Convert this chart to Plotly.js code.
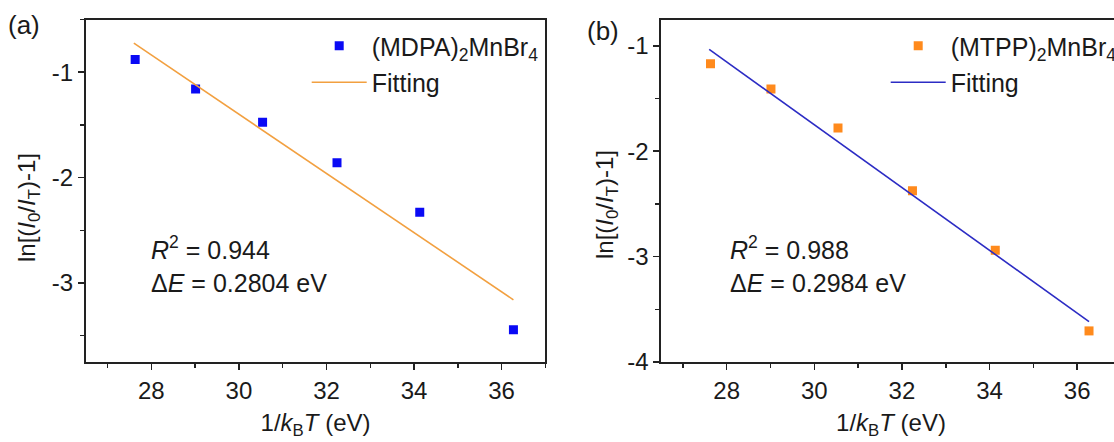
<!DOCTYPE html>
<html><head><meta charset="utf-8">
<script src="https://cdn.plot.ly/plotly-3.0.1.min.js"></script>
<style>html,body{margin:0;padding:0;overflow:hidden;background:#fff}#chart{width:1130px;height:442px}</style>
</head><body><div id="chart"></div>
<script>
// ---- data ----
const invKT = [27.63, 29.01, 30.54, 32.24, 34.13, 36.27];
const lnMDPA = [-0.88, -1.16, -1.475, -1.86, -2.33, -3.445];
const lnMTPP = [-1.17, -1.41, -1.78, -2.375, -2.94, -3.705];
const fitX = [27.6, 36.27];
const fitMDPA = [-0.725, -3.16];
const fitMTPP = [-1.034, -3.617];
const xTickVals = [28, 30, 32, 34, 36];
const yTickValsA = [-1, -2, -3];
const yTickTextA = ['-1', '-2', '-3'];
const yTickValsB = [-1, -2, -3, -4];
const yTickTextB = ['-1', '-2', '-3', '-4'];
const nameA = '(MDPA)<sub>2</sub>MnBr<sub>4</sub>';
const nameB = '(MTPP)<sub>2</sub>MnBr<sub>4</sub>';
const fitName = 'Fitting';
const statsA = ['<i>R</i><sup>2</sup> = 0.944', 'Δ<i>E</i> = 0.2804 eV'];
const statsB = ['<i>R</i><sup>2</sup> = 0.988', 'Δ<i>E</i> = 0.2984 eV'];

// ---- layout helpers ----
const W = 1130, H = 442;
const FONT = 'Liberation Sans, Arial, sans-serif';
const FS = 24;
const FS_TXT = 25;
const TXT = '#1a1a1a';
const AX = '#222';
const px = v => v / W;
const py = v => 1 - v / H;

const blue = '#0a0af5';
const orangeLine = '#f2a040';
const orangeMk = '#ff8a1c';
const blueLine = '#2c2cc4';

const traces = [
  {x: invKT, y: lnMDPA, type: 'scatter', mode: 'markers', name: nameA,
   marker: {symbol: 'square', size: 9, color: blue}, xaxis: 'x', yaxis: 'y', legend: 'legend', legendgroup: 'a1'},
  {x: fitX, y: fitMDPA, type: 'scatter', mode: 'lines', name: fitName,
   line: {color: orangeLine, width: 1.6}, xaxis: 'x', yaxis: 'y', legend: 'legend', legendgroup: 'a2'},
  {x: invKT, y: lnMTPP, type: 'scatter', mode: 'markers', name: nameB,
   marker: {symbol: 'square', size: 9, color: orangeMk}, xaxis: 'x2', yaxis: 'y2', legend: 'legend2', legendgroup: 'b1'},
  {x: fitX, y: fitMTPP, type: 'scatter', mode: 'lines', name: fitName,
   line: {color: blueLine, width: 1.6}, xaxis: 'x2', yaxis: 'y2', legend: 'legend2', legendgroup: 'b2'}
];

function xAxis(dom, anchor) {
  return {
    domain: dom, anchor: anchor, range: [26.5, 37], tickvals: xTickVals,
    ticks: 'outside', ticklen: 6, tickwidth: 1.5, tickcolor: AX,
    showline: true, linecolor: AX, linewidth: 1.7, mirror: true,
    showgrid: false, zeroline: false, automargin: false,
    minor: {ticks: 'outside', ticklen: 4, tickwidth: 1.5, tickcolor: AX, dtick: 1, tick0: 0, showgrid: false},
    tickfont: {family: FONT, size: FS, color: TXT},
    title: {text: '1/<i>k</i><sub>B</sub><i>T</i> (eV)', font: {family: FONT, size: FS, color: TXT}, standoff: 12}
  };
}
function yAxis(range, vals, text, anchor) {
  return {
    domain: [py(362), py(19.5)], anchor: anchor, range: range, tickvals: vals, ticktext: text,
    ticks: 'outside', ticklen: 6, tickwidth: 1.5, tickcolor: AX,
    showline: true, linecolor: AX, linewidth: 1.7, mirror: true,
    showgrid: false, zeroline: false, automargin: false,
    minor: {ticks: 'outside', ticklen: 4, tickwidth: 1.5, tickcolor: AX, dtick: 0.5, tick0: 0, showgrid: false},
    tickfont: {family: FONT, size: FS, color: TXT}
  };
}

const ann = (text, x, y, opts) => Object.assign({
  text: text, x: px(x), y: py(y), xref: 'paper', yref: 'paper', showarrow: false,
  xanchor: 'left', yanchor: 'middle', font: {family: FONT, size: FS_TXT, color: TXT}
}, opts || {});

const yTitle = 'ln[(<i>I</i><sub>0</sub>/<i>I</i><sub>T</sub>)-1]';

const legendBase = {xanchor: 'left', yanchor: 'top', bgcolor: 'rgba(0,0,0,0)',
  borderwidth: 0, itemwidth: 55, traceorder: 'grouped', tracegroupgap: 1,
  font: {family: FONT, size: FS_TXT, color: TXT}};

const layout = {
  width: W, height: H, margin: {l: 0, r: 0, t: 0, b: 0},
  paper_bgcolor: '#fff', plot_bgcolor: '#fff',
  font: {family: FONT, size: FS, color: TXT},
  showlegend: true,
  xaxis: xAxis([px(85.7), px(545.4)], 'y'),
  yaxis: yAxis([-3.75, -0.5], yTickValsA, yTickTextA, 'x'),
  xaxis2: xAxis([px(661), px(1121)], 'y2'),
  yaxis2: yAxis([-4, -0.75], yTickValsB, yTickTextB, 'x2'),
  legend: Object.assign({x: px(306.7), y: py(23)}, legendBase),
  legend2: Object.assign({x: px(885.7), y: py(23)}, legendBase),
  annotations: [
    ann(statsA[0], 149, 248), ann(statsA[1], 149, 283),
    ann(statsB[0], 728, 248), ann(statsB[1], 728, 283),
    ann(yTitle, 28, 208, {textangle: -90, xanchor: 'center', font: {family: FONT, size: FS, color: TXT}}),
    ann(yTitle, 606, 205, {textangle: -90, xanchor: 'center', font: {family: FONT, size: FS, color: TXT}}),
    ann('(a)', 24, 25, {xanchor: 'center', font: {family: FONT, size: 26, color: TXT}}),
    ann('(b)', 603, 31, {xanchor: 'center', font: {family: FONT, size: 26, color: TXT}})
  ]
};

Plotly.newPlot('chart', traces, layout, {displayModeBar: false, staticPlot: true});
</script>
</body></html>
